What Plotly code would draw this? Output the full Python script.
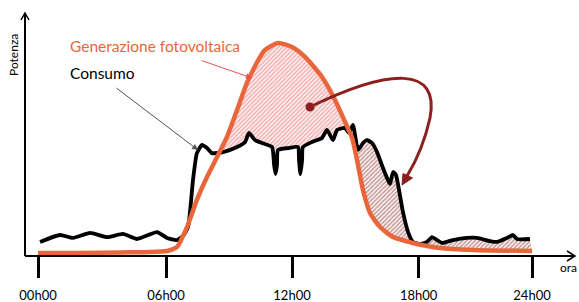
import plotly.graph_objects as go

# ---- data (hours, relative power) ----
gen_h = [0.00, 2.04, 3.98, 5.44, 6.27, 6.56, 6.75, 7.24, 7.72, 8.21, 8.70, 9.18, 9.67, 10.15,
         10.45, 10.79, 11.03, 11.66, 12.34, 12.97, 13.80, 14.43, 14.92, 15.26, 15.50, 15.79,
         16.13, 16.62, 17.25, 18.22, 19.53, 21.13, 24.00]
gen_v = [1.4, 1.4, 1.7, 1.9, 2.4, 3.3, 4.3, 13.8, 26.7, 37.6, 47.1, 56.7, 69.5, 82.4,
         88.6, 94.8, 98.1, 101.4, 99.5, 94.8, 85.2, 74.3, 63.8, 56.2, 45.7, 31.4,
         20.5, 13.8, 9.0, 6.2, 3.8, 2.9, 2.4]

cons_h = [0.10, 1.07, 1.70, 2.53, 3.35, 4.13, 4.81, 5.78, 6.27, 6.75, 7.04, 7.29, 7.53, 7.72,
          7.97, 8.21, 8.45, 8.99, 9.67, 10.06, 10.25, 10.54, 10.88, 11.37, 11.47, 11.54, 11.61,
          11.66, 12.15, 12.63, 12.68, 12.75, 12.83, 12.87, 13.31, 13.80, 14.04, 14.33, 14.53,
          14.92, 15.11, 15.30, 15.55, 15.79, 15.98, 16.23, 16.47, 16.76, 17.00, 17.10, 17.25,
          17.39, 17.54, 17.73, 17.98, 18.22, 18.56, 18.90, 19.14, 19.39, 19.63, 20.16, 20.84,
          21.33, 21.96, 22.30, 22.79, 23.08, 23.27, 23.90]
cons_v = [6.7, 10.0, 8.6, 11.0, 9.0, 10.5, 8.1, 11.4, 8.6, 7.6, 9.5, 13.8, 36.2, 49.0,
          52.9, 51.4, 49.0, 49.5, 51.9, 54.3, 58.6, 55.2, 53.8, 51.9, 43.3, 39.0, 43.3,
          50.5, 51.4, 51.9, 45.7, 39.0, 45.7, 51.9, 54.3, 56.2, 60.0, 55.2, 60.0,
          61.0, 58.6, 62.4, 50.5, 53.8, 55.2, 53.8, 49.5, 41.9, 36.2, 34.3, 40.0,
          38.6, 31.4, 21.0, 11.4, 6.7, 5.7, 6.7, 9.0, 7.6, 6.2, 7.6, 8.6,
          8.6, 7.1, 6.7, 8.6, 10.0, 8.1, 8.1]

tick_pos = [0, 6.22, 12.34, 18.49, 24]
tick_text = ["00h00", "06h00", "12h00", "18h00", "24h00"]

surplus_range = (8.9, 14.95)   # generation above consumption
deficit_range = (14.9, 24.0)   # consumption above generation

ORANGE = "#e8663a"
W, H = 579, 302
L, R, T, B = 25, 4, 12, 46
PW, PH = W - L - R, H - T - B


def px(x, y):
    return (x - L) / PW, (H - B - y) / PH


def seg(hs, vs, lo, hi):
    pts = [(h, v) for h, v in zip(hs, vs) if lo <= h <= hi]
    return [p[0] for p in pts], [p[1] for p in pts]


fig = go.Figure()

# surplus area (pink hatch)
gx, gy = seg(gen_h, gen_v, *surplus_range)
cx, cy = seg(cons_h, cons_v, *surplus_range)
fig.add_trace(go.Scatter(x=gx, y=gy, mode="lines", line=dict(width=0), hoverinfo="skip"))
fig.add_trace(go.Scatter(x=cx, y=cy, mode="lines", line=dict(width=0), fill="tonexty",
                         fillcolor="white",
                         fillpattern=dict(shape="/", fgcolor="#ec6464", bgcolor="white",
                                          size=3, solidity=0.58), hoverinfo="skip"))
# deficit area (brown hatch)
gx, gy = seg(gen_h, gen_v, *deficit_range)
cx, cy = seg(cons_h, cons_v, *deficit_range)
fig.add_trace(go.Scatter(x=gx, y=gy, mode="lines", line=dict(width=0), hoverinfo="skip"))
fig.add_trace(go.Scatter(x=cx, y=cy, mode="lines", line=dict(width=0), fill="tonexty",
                         fillcolor="white",
                         fillpattern=dict(shape="/", fgcolor="#963434", bgcolor="white",
                                          size=3, solidity=0.55), hoverinfo="skip"))

# lines
fig.add_trace(go.Scatter(x=cons_h, y=cons_v, mode="lines",
                         line=dict(color="black", width=3.8, shape="spline", smoothing=0.5)))
fig.add_trace(go.Scatter(x=gen_h, y=gen_v, mode="lines",
                         line=dict(color=ORANGE, width=4.5, shape="spline", smoothing=0.6)))

shapes = []
# axis arrows (open chevrons)
x0, y0 = px(25, 256); x1, y1 = px(575, 256)
shapes.append(dict(type="line", xref="paper", yref="paper", x0=x0, y0=y0, x1=x1, y1=y1,
                   line=dict(color="black", width=2)))
a, b = px(567, 251); c, d = px(575, 256); e, f = px(567, 261)
shapes.append(dict(type="path", xref="paper", yref="paper",
                   path=f"M {a} {b} L {c} {d} L {e} {f}", line=dict(color="black", width=1.5)))
x0, y0 = px(25, 256); x1, y1 = px(25, 13)
shapes.append(dict(type="line", xref="paper", yref="paper", x0=x0, y0=y0, x1=x1, y1=y1,
                   line=dict(color="black", width=2)))
a, b = px(21, 20); c, d = px(25, 13); e, f = px(29, 20)
shapes.append(dict(type="path", xref="paper", yref="paper",
                   path=f"M {a} {b} L {c} {d} L {e} {f}", line=dict(color="black", width=1.5)))

# curved dark red arrow
DR = "#8e1f1f"
P = [px(310, 107), px(390, 68), px(440, 66), px(430, 118), px(424, 145), px(415, 163), px(407, 176)]
path = (f"M {P[0][0]} {P[0][1]} C {P[1][0]} {P[1][1]}, {P[2][0]} {P[2][1]}, {P[3][0]} {P[3][1]} "
        f"C {P[4][0]} {P[4][1]}, {P[5][0]} {P[5][1]}, {P[6][0]} {P[6][1]}")
shapes.append(dict(type="path", xref="paper", yref="paper", path=path,
                   line=dict(color=DR, width=3)))
t1 = px(402, 185); t2 = px(412.5, 178); t3 = px(403, 173.5)
shapes.append(dict(type="path", xref="paper", yref="paper",
                   path=f"M {t1[0]} {t1[1]} L {t2[0]} {t2[1]} L {t3[0]} {t3[1]} Z",
                   fillcolor=DR, line=dict(color=DR, width=1)))
c0 = px(305.5, 102.5); c1 = px(314.5, 111.5)
shapes.append(dict(type="circle", xref="paper", yref="paper", x0=c0[0], y0=c1[1], x1=c1[0], y1=c0[1],
                   fillcolor=DR, line=dict(color=DR, width=0)))

FONT = "Lato"
annotations = []
gx0, gy0 = px(68, 46)
annotations.append(dict(x=gx0, y=gy0, xref="paper", yref="paper", xanchor="left", yanchor="middle",
                        text="Generazione fotovoltaica", showarrow=False,
                        font=dict(family=FONT, size=15.5, color=ORANGE)))
cx0, cy0 = px(68, 73)
annotations.append(dict(x=cx0, y=cy0, xref="paper", yref="paper", xanchor="left", yanchor="middle",
                        text="Consumo", showarrow=False,
                        font=dict(family=FONT, size=15.5, color="black")))
hx, hy = px(198, 150)
annotations.append(dict(x=hx, y=hy, xref="paper", yref="paper", ax=-83, ay=-63, text="",
                        showarrow=True, arrowhead=2, arrowsize=1.2, arrowwidth=1, arrowcolor="#555"))
hx, hy = px(252, 78)
annotations.append(dict(x=hx, y=hy, xref="paper", yref="paper", ax=-52, ay=-18, text="",
                        showarrow=True, arrowhead=2, arrowsize=1.2, arrowwidth=1, arrowcolor="#e8534f"))
px_, py_ = px(13, 55)
annotations.append(dict(x=px_, y=py_, xref="paper", yref="paper", text="Potenza", textangle=-90,
                        xanchor="center", yanchor="middle",
                        showarrow=False, font=dict(family=FONT, size=12, color="black")))
ox, oy = px(568, 267)
annotations.append(dict(x=ox, y=oy, xref="paper", yref="paper", text="ora",
                        xanchor="center", yanchor="middle",
                        showarrow=False, font=dict(family=FONT, size=12, color="black")))

xmin = -(38 - 25) / (494 / 24)
xmax = (575 - 38) / (494 / 24)
fig.update_layout(
    width=W, height=H, margin=dict(l=L, r=R, t=T, b=B, autoexpand=False),
    plot_bgcolor="white", paper_bgcolor="white", showlegend=False,
    shapes=shapes, annotations=annotations,
    xaxis=dict(range=[xmin, xmax], tickvals=tick_pos, ticktext=tick_text, ticks="outside",
               ticklen=21, tickwidth=3, tickcolor="black", showgrid=False, zeroline=False,
               showline=False, ticklabelstandoff=6, automargin=False,
               tickfont=dict(family=FONT, size=13, color="black")),
    yaxis=dict(range=[0, (256 - 12) / 2.1], showticklabels=False, ticks="", showgrid=False,
               zeroline=False, showline=False, automargin=False),
)
fig.write_html("out.html", config={"displayModeBar": False},
               post_script="document.body.style.margin='0';document.body.style.overflow='hidden';")
